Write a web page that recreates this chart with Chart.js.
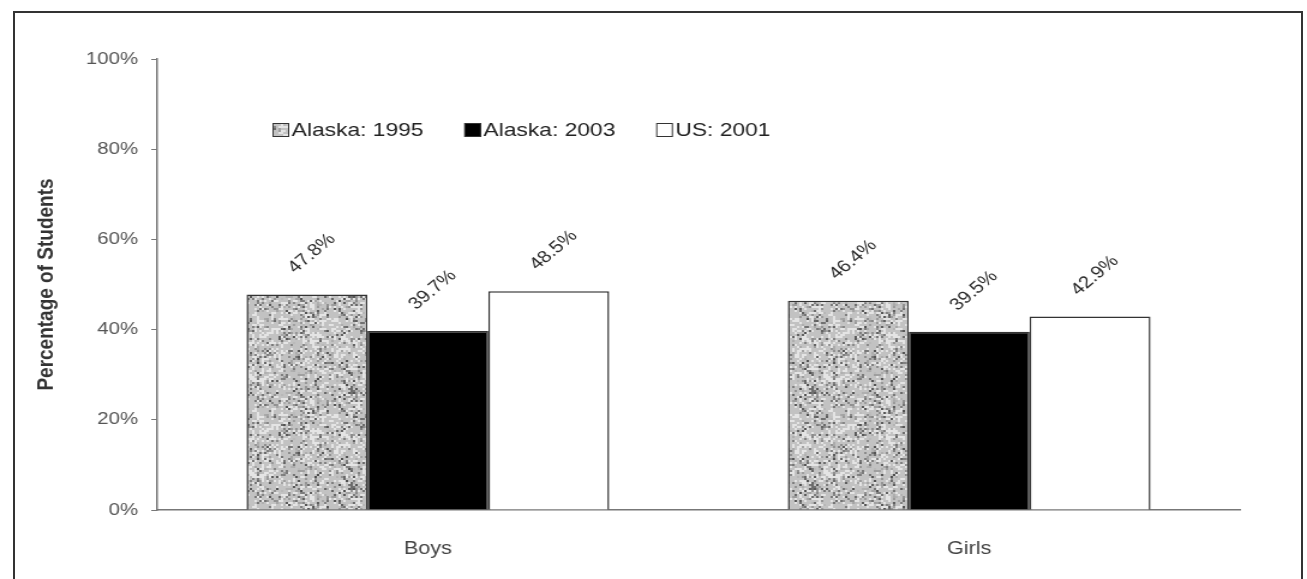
<!DOCTYPE html>
<html lang="en">
<head>
  <meta charset="UTF-8">
  <title>Percentage of Students</title>
  <style>
    * { margin: 0; padding: 0; box-sizing: border-box; }
    body { width: 1307px; height: 579px; background: #fff; overflow: hidden; position: relative; }
    .frame {
      position: absolute;
      left: 13px; top: 11px;
      width: 1290px; height: 580px;
      border: 2px solid #333;
      border-bottom: none;
    }
    /* the source picture is stretched sideways, so the chart is drawn narrower and scaled out */
    #wrap {
      position: absolute; left: 0; top: 0;
      width: 1089px; height: 579px;
      transform: scaleX(1.2002);
      transform-origin: 0 0;
    }
  </style>
</head>
<body>
  <div class="frame"></div>
  <div id="wrap"><canvas id="chart"></canvas></div>

  <script src="https://cdn.jsdelivr.net/npm/chart.js"></script>
  <script>
    // chart data
    const groups = ['Boys', 'Girls'];
    const seriesNames = ['Alaska: 1995', 'Alaska: 2003', 'US: 2001'];
    const alaska1995 = [47.8, 46.4];
    const alaska2003 = [39.7, 39.5];
    const us2001 = [48.5, 42.9];
    const yTicks = [0, 20, 40, 60, 80, 100];

    const FONT = '"Liberation Sans", Arial, sans-serif';

    // speckled grey fill for the 1995 bars (fixed hash texture)
    function speckle() {
      const c = document.createElement('canvas');
      c.width = 96; c.height = 96;
      const g = c.getContext('2d');
      g.fillStyle = '#c2c2c2';
      g.fillRect(0, 0, 96, 96);
      for (let y = 0; y < 96; y += 2) {
        for (let x = 0; x < 96; x += 2) {
          let h = (x * 374761393 + y * 668265263) | 0;
          h = (h ^ (h >>> 13)) * 1274126177;
          h = (h ^ (h >>> 16)) & 255;
          if (h < 60) {
            const v = 80 + h * 2;
            g.fillStyle = `rgb(${v},${v},${v})`;
            g.fillRect(x, y, 2, 2);
          } else if (h > 190) {
            g.fillStyle = '#e4e4e4';
            g.fillRect(x, y, 2, 2);
          }
        }
      }
      return g.createPattern(c, 'repeat');
    }
    const greyFill = speckle();

    // legend drawn inside the plot, near the top
    const innerLegend = {
      id: 'innerLegend',
      afterDraw(chart) {
        const ctx = chart.ctx;
        const area = chart.chartArea;
        let x = area.left + 96;
        const y = area.top + 71;
        ctx.save();
        ctx.font = '19px ' + FONT;
        ctx.textBaseline = 'middle';
        chart.data.datasets.forEach(ds => {
          ctx.fillStyle = ds.backgroundColor;
          ctx.fillRect(x, y - 7, 14, 14);
          ctx.strokeStyle = '#333';
          ctx.lineWidth = 1;
          ctx.strokeRect(x + 0.5, y - 6.5, 13, 13);
          ctx.fillStyle = '#222';
          ctx.fillText(ds.label, x + 16, y + 1);
          x += 16 + ctx.measureText(ds.label).width + 34;
        });
        ctx.restore();
      }
    };

    // rotated value labels above each bar
    const valueLabels = {
      id: 'valueLabels',
      afterDatasetsDraw(chart) {
        const ctx = chart.ctx;
        ctx.save();
        ctx.font = '17px ' + FONT;
        ctx.fillStyle = '#2a2a2a';
        ctx.textAlign = 'center';
        ctx.textBaseline = 'middle';
        chart.data.datasets.forEach((ds, i) => {
          chart.getDatasetMeta(i).data.forEach((bar, j) => {
            ctx.save();
            ctx.translate(bar.x + 4, bar.y - 41);
            ctx.rotate(-Math.PI / 4);
            ctx.fillText(ds.data[j].toFixed(1) + '%', 0, 0);
            ctx.restore();
          });
        });
        ctx.restore();
      }
    };

    new Chart(document.getElementById('chart'), {
      type: 'bar',
      data: {
        labels: groups,
        datasets: [
          { label: seriesNames[0], data: alaska1995, backgroundColor: greyFill },
          { label: seriesNames[1], data: alaska2003, backgroundColor: '#000' },
          { label: seriesNames[2], data: us2001, backgroundColor: '#fff' }
        ].map(d => Object.assign(d, {
          borderColor: '#333',
          borderWidth: 1.5,
          barPercentage: 1,
          categoryPercentage: 0.67
        }))
      },
      options: {
        responsive: true,
        maintainAspectRatio: false,
        animation: false,
        layout: { padding: { left: 27, right: 56, top: 59, bottom: 0 } },
        plugins: {
          legend: { display: false },
          tooltip: { enabled: false }
        },
        scales: {
          x: {
            grid: { display: false, drawTicks: false },
            border: { color: '#777', width: 1.5 },
            ticks: { color: '#444', font: { family: FONT, size: 18 }, padding: 28 },
            afterFit(s) { s.height = 69; }
          },
          y: {
            min: 0,
            max: 100,
            afterBuildTicks(s) { s.ticks = yTicks.map(v => ({ value: v })); },
            grid: { drawOnChartArea: false, tickLength: 5, color: '#777' },
            border: { color: '#777', width: 1.5 },
            ticks: {
              color: '#555',
              font: { family: FONT, size: 17 },
              padding: 11,
              callback: v => v + '%'
            },
            title: {
              display: true,
              text: 'Percentage of Students',
              color: '#333',
              font: { family: FONT, size: 19, weight: 'bold' },
              padding: { top: 0, bottom: 0 }
            },
            afterFit(s) { s.width = 104; }
          }
        }
      },
      plugins: [innerLegend, valueLabels]
    });
  </script>
</body>
</html>
